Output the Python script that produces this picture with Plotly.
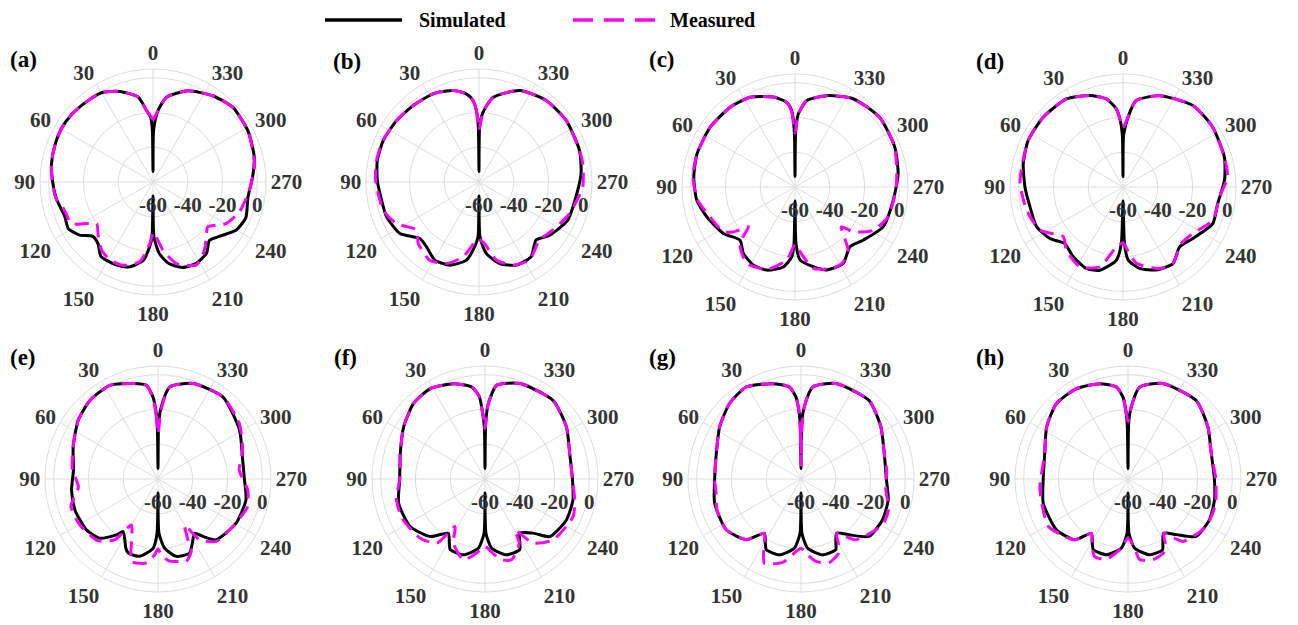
import plotly.graph_objects as go

# ---------------- data (dB, theta in degrees) ----------------
sim_theta_a = [0, 0.7, 2, 5, 10, 20, 30, 40, 50, 60, 70, 80, 90, 100, 111, 119, 126, 132, 138, 145, 156, 164, 173, 177, 179, 180, 181, 185, 191, 199, 208, 217, 224, 231, 240, 249, 261, 273, 284, 298, 313, 325, 339, 351, 356, 359.3, 360]
sim_r_a = [-54, -30, -23, -18.9, -10.3, -4.6, -0.7, 0, 0.8, 1, 0.2, -0.7, -2.3, -3.6, -5.5, -4.4, -8, -13.3, -12.6, -7.8, -7.8, -9.1, -14.7, -22.7, -28.5, -52, -28.5, -18.7, -12.2, -8, -7, -8.8, -13.3, -10.5, -4.7, -2.8, -4.7, -2.6, 0, 2, 2.9, 0.4, -3.8, -10.7, -18.9, -30, -54]
meas_theta_a = [0, 2, 5, 10, 20, 30, 40, 50, 60, 70, 80, 90, 100, 106, 117, 121, 126.3, 135, 143, 151, 160, 170.5, 177, 180, 182, 188.3, 196, 207.5, 217, 223.3, 230.7, 235.6, 240.4, 250.9, 265, 280, 298, 313, 325, 339, 351, 356, 360]
meas_r_a = [-24, -22, -18.9, -10.3, -4.6, -0.7, 0, 0.8, 1, 0.2, -0.7, -2, -3.5, -6.2, -7.4, -13.3, -19.7, -15.5, -10.9, -8.8, -9.1, -13.5, -24.6, -31, -30, -20.4, -11.2, -6.1, -10.9, -15.4, -19.3, -16, -11.6, -7.4, -4.4, -0.7, 2, 2.9, 0.4, -3.8, -10.7, -18.9, -24]

sim_theta_b = [0, 0.7, 2.1, 4.2, 8.2, 15.8, 27.5, 40.7, 53.3, 66.5, 78, 89, 100.6, 110.7, 123, 133.7, 141, 150.5, 160.6, 170.8, 176.2, 179, 180, 181, 185.8, 194.2, 204.1, 214.9, 224.5, 233, 246.7, 261.2, 274.7, 287.5, 305.2, 320.5, 336.1, 350.6, 356.7, 359.3, 360]
sim_r_b = [-54, -28, -18.9, -13, -8.8, -5.3, -2.8, -2, -0.9, 0, -0.2, -1.5, -3, -3.2, -5.7, -13, -12, -8.4, -9.3, -14.5, -22.7, -28.5, -52, -28.5, -18.7, -11.6, -7.6, -7.6, -13.2, -9.1, -4.4, -3.6, -1.1, 0.6, 1.4, 0.8, -2.4, -10.7, -19.8, -28, -54]
meas_theta_b = [0, 2.1, 4.2, 8.2, 15.8, 27.5, 40.7, 53.3, 66.5, 78, 89, 106.4, 116.7, 127.6, 135.3, 147.8, 158.2, 168, 177.4, 180, 185, 192.5, 202.2, 212.9, 226.1, 236.8, 250.7, 267.2, 280, 287.5, 305.2, 320.5, 336.1, 350.6, 356.7, 360]
meas_r_b = [-30, -19, -13, -8.8, -5.3, -2.8, -2, -0.9, 0.2, 0.2, -0.5, -2.6, -6.8, -14.7, -10.3, -6.8, -9.5, -16, -26.5, -27, -24.6, -14, -8.4, -6.5, -11.8, -9.3, -4.9, -0.3, 0.6, 0.6, 1.4, 0.8, -2.4, -10.7, -19.8, -30]

sim_theta_c = [0, 0.7, 2.5, 5.6, 13.5, 26.6, 39.1, 54.8, 71.3, 84.4, 97.7, 108.8, 123, 134.1, 142.2, 152, 161.2, 171.7, 177.3, 179, 180, 181, 183.9, 192.9, 200.8, 212.2, 222.5, 232, 245.6, 262.3, 277.4, 291.8, 309.5, 326.6, 340.9, 352.3, 357.4, 359.3, 360]
sim_r_c = [-54, -28, -16, -11.1, -6.8, -2.3, -0.9, -0.3, -0.5, -1.5, -3, -6.5, -10.9, -16, -11.6, -9.1, -9.5, -13.5, -19.8, -27.5, -52, -27.5, -18, -13, -9, -8, -13.3, -10.3, -4.4, -3, -0.2, 1.8, 3.1, 0.8, -4.4, -9.9, -18, -28, -54]
meas_theta_c = [0, 2.5, 5.6, 13.5, 26.6, 39.1, 54.8, 71.3, 84.4, 97.7, 108.8, 122.1, 126, 130.6, 134, 137.5, 147.8, 161.1, 173.5, 178.4, 180, 181.6, 192.7, 205, 212.2, 220.1, 229.4, 232.4, 241, 252.2, 270, 291.8, 309.5, 326.6, 340.9, 352.3, 357.4, 360]
meas_r_c = [-29, -17, -11.1, -6.8, -2.3, -0.9, -0.3, -0.5, -1, -3.5, -8, -11.4, -16, -24.8, -18, -13.3, -8, -9.9, -17.7, -25.6, -27, -25.6, -12, -8.5, -8.5, -12.6, -24.8, -17.7, -8.6, -3.8, -1.7, 1.8, 3.1, 0.8, -4.4, -9.9, -18, -29]

sim_theta_d = [0, 0.7, 2.3, 4.9, 10.7, 20, 32.7, 48.8, 63.8, 76.9, 90, 102.1, 114.8, 125.2, 134.2, 144.5, 155.8, 164.4, 174.8, 178.3, 180, 181.5, 184, 191.5, 201.8, 213.1, 223.4, 233.6, 247.8, 260, 273.8, 286.4, 303.7, 319.4, 338.2, 351.3, 355.9, 359.3, 360]
sim_r_d = [-54, -30, -21.8, -14.9, -8.4, -4, 0.2, 1, 0.8, -1.1, -3.6, -5.3, -5.3, -8.6, -13.3, -10.7, -8.6, -10.3, -17.7, -27.5, -52, -27.5, -18, -12.2, -8.6, -7.4, -12.6, -10.1, -4.2, -4.7, -1.5, 0.8, 2, 1.8, -3.4, -9.7, -19.7, -30, -54]
meas_theta_d = [0, 2.3, 4.9, 10.7, 20, 32.7, 48.8, 63.8, 76.9, 88, 103.6, 117.5, 129.8, 138.2, 151.6, 163.7, 173.7, 180, 183, 190, 204.2, 213.1, 225.8, 236.3, 249.7, 264, 275.4, 286.4, 303.7, 319.4, 338.2, 351.3, 355.9, 360]
meas_r_d = [-26, -21.5, -14.9, -8.4, -4, 0.2, 1, 0.8, -0.6, -0.7, -3, -6.1, -15.3, -11.2, -7.8, -12.2, -25.4, -28, -25, -15.4, -8.6, -7.4, -13.3, -11.8, -4.9, -4.2, 0.4, 0.8, 2, 1.8, -3.4, -9.7, -19.7, -26]

sim_theta_e = [0, 0.7, 1.5, 3.5, 7.1, 14.6, 27.2, 40.9, 53.6, 69.2, 84, 97.2, 110.4, 125.4, 135.5, 143.4, 146.4, 151.3, 155, 158, 166.7, 175.9, 179, 180, 181, 185.5, 193.3, 203.1, 208.1, 214, 218, 223.7, 240.5, 256.6, 270, 282.6, 301, 321.7, 339.9, 352.8, 357.4, 359.3, 360]
sim_r_e = [-54, -30, -22.3, -12.8, -5.7, -3.2, 0.6, -0.2, -3, -7.8, -11.1, -9.9, -9, -9.5, -12.2, -20, -23.7, -20.2, -16.2, -14.1, -14.3, -20, -28.8, -52, -28.8, -20, -14.3, -13.7, -18.1, -22.3, -18.1, -11.6, -8.4, -8, -10.3, -10.1, -5.3, 0.2, -1.5, -6.7, -18.5, -28, -54]
meas_theta_e = [0, 1.5, 3.5, 7.1, 14.6, 27.2, 40.9, 53.6, 69.2, 84, 95.6, 107.4, 120.4, 136, 144.6, 150, 157.5, 162.1, 172.1, 177.5, 180, 182.5, 187.5, 192.5, 198.9, 204.6, 206.2, 210.1, 214.3, 223, 237.6, 252.9, 263, 276.3, 288.8, 304.3, 321.7, 339.9, 352.8, 357.4, 360]
meas_r_e = [-34, -24, -13.5, -5.7, -3.2, 0.6, -0.2, -3, -7.8, -10.5, -14, -7.5, -7.8, -10.5, -17.2, -29.4, -20, -10.1, -11.2, -16.4, -19.7, -16.4, -12.5, -11.4, -9.9, -14.1, -21, -29.4, -17.6, -10.9, -9, -6.1, -8, -13, -8.6, -3.4, 0.2, -1.5, -6.7, -20, -34]

sim_theta_f = [0, 0.7, 2, 3.9, 8.2, 18.3, 31.2, 43.4, 57.3, 73.2, 90.7, 105.7, 122.4, 136.4, 145.9, 151, 153.8, 164.1, 174.5, 179, 180, 181, 185.5, 195.9, 206.2, 208.5, 212.8, 221.7, 228.4, 243.3, 256.6, 270, 286.8, 302.6, 319.1, 339.9, 352.9, 357.5, 359.3, 360]
sim_r_f = [-54, -30, -22.3, -12.6, -6.5, -2.3, 0.8, -0.2, -4.4, -9.1, -10.9, -8.4, -9, -14.3, -22.3, -17.7, -14.7, -14.7, -20, -28.8, -52, -28.8, -20, -14.7, -14.7, -18, -22.9, -18.3, -10.1, -7.6, -8, -9.7, -9.1, -4.4, -0.2, -1.5, -5.7, -16.6, -28, -54]
meas_theta_f = [0, 1, 2, 3.9, 8.2, 18.3, 31.2, 43.4, 57.3, 73.2, 90.7, 102.3, 115.3, 132.4, 143.1, 147.8, 153.8, 165, 173.6, 180, 186, 191.6, 198.2, 208.1, 210.5, 216.9, 228.2, 246.9, 256.9, 270, 286.8, 302.6, 319.1, 339.9, 352.9, 357.5, 360]
meas_r_f = [-31, -26, -22.3, -12.6, -6.5, -2.3, 0.8, -0.2, -4.4, -9.1, -10.9, -7.8, -7.2, -9.5, -13.9, -27.7, -18.9, -11.8, -17.2, -21.2, -17, -12.6, -11.1, -18.1, -26, -13.9, -7.4, -4.9, -7, -9.7, -9.1, -4.4, -0.2, -1.5, -5.7, -16.6, -31]

sim_theta_g = [0, 0.7, 1.5, 3.5, 7.2, 16.5, 30.8, 43.4, 57.3, 73.2, 90.7, 105.7, 124.2, 137.9, 146, 151, 153.8, 164.1, 174.5, 179, 180, 181, 185.5, 195.9, 206.2, 208.5, 213.3, 220.8, 229.8, 243.3, 256.5, 270, 287.1, 303.2, 319.1, 339.9, 352.8, 357.4, 359.3, 360]
sim_r_g = [-54, -30, -22.3, -12.8, -6.7, -2.8, 1.6, -0.2, -4.4, -9.1, -10.3, -8.4, -8, -13, -22.3, -17.7, -14.7, -14.7, -20, -28.8, -52, -28.8, -20, -14.7, -14.7, -18, -22.7, -17.6, -8.8, -7.6, -8.4, -10.9, -9.9, -5.1, -0.2, -1.5, -6.7, -18.5, -28, -54]
meas_theta_g = [0, 0.7, 1.5, 3.5, 7.2, 16.5, 30.8, 43.4, 57.3, 73.2, 90.7, 99.6, 110, 124.2, 137.9, 146, 151, 156.5, 167.6, 176, 180, 184, 190.3, 198.7, 206.9, 210, 213.3, 222, 240.6, 250.5, 266, 275, 287.1, 303.2, 319.1, 339.9, 352.8, 357.4, 359.3, 360]
meas_r_g = [-52, -35, -22.3, -12.8, -6.7, -2.8, 1.6, -0.2, -4.4, -9.1, -10.3, -10.5, -8.5, -8, -13, -22.3, -16, -7.2, -10.9, -18.1, -20.2, -17, -11.8, -9.3, -12.2, -17, -22.7, -13, -6.3, -6.7, -11.4, -10.5, -9.9, -5.1, -0.2, -1.5, -6.7, -18.5, -35, -52]

sim_theta_h = [0, 0.7, 1.5, 3.5, 7.2, 16.5, 29.7, 43.4, 57.3, 73, 90.7, 106, 125.4, 138.8, 146, 151, 153.8, 164, 174.5, 179, 180, 181, 185.5, 196, 206, 208.5, 213.3, 221, 229.8, 243.3, 256.4, 270, 287, 303.2, 319, 340, 352.8, 357.4, 359.3, 360]
sim_r_h = [-54, -30, -22.3, -12.8, -6.7, -2.8, -0.2, -0.2, -4.4, -9.9, -11.2, -9.3, -9.5, -13.5, -22.3, -17.7, -14.7, -14.7, -20, -28.8, -52, -28.8, -20, -14.7, -14.7, -18, -22.7, -17.6, -8.8, -7.6, -8.8, -10.3, -9.9, -5.1, -0.2, -1.5, -6.7, -18.5, -28, -54]
meas_theta_h = [0, 1.5, 3.5, 7.2, 16.5, 29.7, 43.4, 57.3, 73, 95, 106, 120.8, 138.8, 146, 151, 156.8, 164.9, 174.5, 180, 185.5, 188.2, 197.2, 205.6, 210, 213.3, 221.3, 238.7, 253.5, 270, 287, 303.2, 319, 340, 352.8, 357.4, 360]
meas_r_h = [-27, -22.3, -12.8, -6.7, -2.8, -0.2, -0.2, -4.4, -9.9, -9.1, -8.5, -6.7, -13.5, -22.3, -17, -11.4, -12.2, -20, -26, -20, -13.2, -11.4, -12.8, -17, -22.7, -12.2, -7.4, -7.6, -9.5, -9.9, -5.1, -0.2, -1.5, -6.7, -18.5, -27]

panel_labels = ["(a)", "(b)", "(c)", "(d)", "(e)", "(f)", "(g)", "(h)"]
angle_ticks = [0, 30, 60, 90, 120, 150, 180, 210, 240, 270, 300, 330]
radial_ticks = [-60, -40, -20, 0]
series_names = ["Simulated", "Measured"]

# ---------------- layout geometry ----------------
W, H = 1298, 625
R = 113
FONT = "Liberation Serif"
centers = [(153, 182), (479, 182), (795, 187), (1123, 187),
           (158, 479), (485, 479), (801, 479), (1128, 479)]
label_pos = [(23, 60), (347, 62), (662, 60), (990, 62),
             (23, 357), (345, 357), (662, 357), (990, 357)]

sims = [(sim_theta_a, sim_r_a), (sim_theta_b, sim_r_b), (sim_theta_c, sim_r_c), (sim_theta_d, sim_r_d),
        (sim_theta_e, sim_r_e), (sim_theta_f, sim_r_f), (sim_theta_g, sim_r_g), (sim_theta_h, sim_r_h)]
meas = [(meas_theta_a, meas_r_a), (meas_theta_b, meas_r_b), (meas_theta_c, meas_r_c), (meas_theta_d, meas_r_d),
        (meas_theta_e, meas_r_e), (meas_theta_f, meas_r_f), (meas_theta_g, meas_r_g), (meas_theta_h, meas_r_h)]

GRID = "#dddddd"
TICKFONT = dict(family=FONT, size=21, color="#333333", weight="bold")

fig = go.Figure()
layout_updates = {}
for i in range(8):
    sub = "polar" if i == 0 else f"polar{i+1}"
    st, sr = sims[i]
    mt, mr = meas[i]
    fig.add_trace(go.Scatterpolar(theta=st, r=sr, mode="lines", subplot=sub, showlegend=False,
                                  name=series_names[0],
                                  line=dict(color="black", width=3, shape="spline", smoothing=0.6)))
    fig.add_trace(go.Scatterpolar(theta=mt, r=mr, mode="lines", subplot=sub, showlegend=False,
                                  name=series_names[1],
                                  line=dict(color="#FF00FF", width=3, dash="14px,8px",
                                            shape="spline", smoothing=0.6)))
    cx, cy = centers[i]
    layout_updates[sub] = dict(
        domain=dict(x=[(cx - R) / W, (cx + R) / W], y=[1 - (cy + R) / H, 1 - (cy - R) / H]),
        bgcolor="white",
        angularaxis=dict(rotation=90, direction="counterclockwise", tickmode="array",
                         tickvals=angle_ticks, ticktext=[str(v) for v in angle_ticks],
                         showgrid=True, gridcolor=GRID, gridwidth=1,
                         showline=True, linecolor=GRID, linewidth=1,
                         ticks="",
                         tickfont=TICKFONT),
        radialaxis=dict(range=[-60, 5], tickmode="array", tickvals=radial_ticks,
                        ticktext=[str(v) for v in radial_ticks],
                        showgrid=True, gridcolor=GRID, gridwidth=1, showline=False,
                        angle=0, side="clockwise", tickangle=0,
                        ticks="outside", ticklen=4, tickcolor="rgba(0,0,0,0)",
                        tickfont=TICKFONT),
    )

annotations = []
for (x, y), txt in zip(label_pos, panel_labels):
    annotations.append(dict(x=x / W, y=1 - y / H, xref="paper", yref="paper", text=txt,
                            showarrow=False, xanchor="center", yanchor="middle",
                            font=dict(family=FONT, size=23, color="black", weight="bold")))

# custom legend at top
ly = 1 - 20 / H
shapes = [
    dict(type="line", xref="paper", yref="paper", x0=325 / W, x1=402 / W, y0=ly, y1=ly,
         line=dict(color="black", width=3.5)),
    dict(type="line", xref="paper", yref="paper", x0=573 / W, x1=655 / W, y0=ly, y1=ly,
         line=dict(color="#FF00FF", width=3.5, dash="20px,11px")),
]
annotations.append(dict(x=417 / W, y=ly, xref="paper", yref="paper", text=series_names[0],
                        showarrow=False, xanchor="left", yanchor="middle",
                        font=dict(family=FONT, size=20, color="black", weight="bold")))
annotations.append(dict(x=668 / W, y=ly, xref="paper", yref="paper", text=series_names[1],
                        showarrow=False, xanchor="left", yanchor="middle",
                        font=dict(family=FONT, size=20, color="black", weight="bold")))

fig.update_layout(width=W, height=H, margin=dict(l=0, r=0, t=0, b=0),
                  paper_bgcolor="white", plot_bgcolor="white",
                  showlegend=False, annotations=annotations, shapes=shapes,
                  **layout_updates)

fig.write_html("out.html")
